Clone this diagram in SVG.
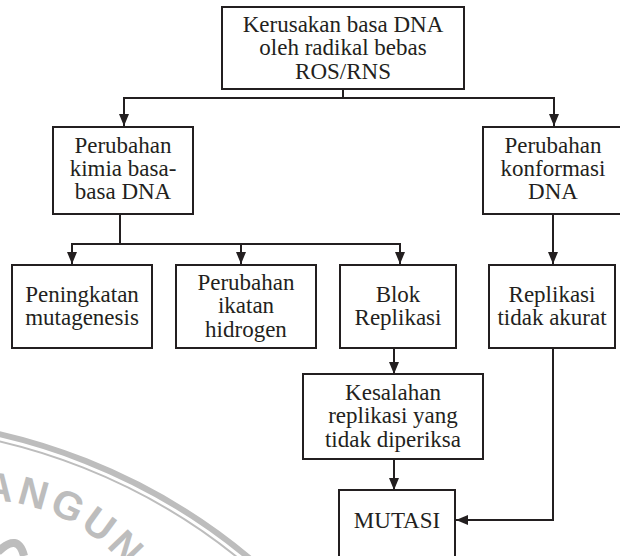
<svg xmlns="http://www.w3.org/2000/svg" width="620" height="556" viewBox="0 0 620 556">
<style>
.box{fill:#fff;stroke:#231f20;stroke-width:2}
.lbl{font-family:"Liberation Serif","Times New Roman",serif;font-size:23px;fill:#231f20;text-anchor:middle}
.con{fill:none;stroke:#231f20;stroke-width:2}
.wm{fill:none;stroke:#bdbdbd}
.wmt{font-family:"Liberation Sans",Arial,sans-serif;font-weight:bold;font-size:40px;fill:#bdbdbd;letter-spacing:4px}
</style>
<defs>
<marker id="ah" markerUnits="userSpaceOnUse" markerWidth="12" markerHeight="12" viewBox="0 0 12 10" refX="12" refY="5" orient="auto">
<path d="M0 0 L12 5 L0 10 Z" fill="#231f20"/>
</marker>
<path id="wmarc" d="M -113.5 525.3 A 189 189 0 0 1 170 689"/>
</defs>
<g id="watermark">
<circle class="wm" cx="-135" cy="1019" r="600" stroke-width="6"/>
<circle class="wm" cx="-135" cy="1019" r="593" stroke-width="2"/>
<text class="wmt"><textPath href="#wmarc" startOffset="101">ANGUN</textPath></text>
<path class="wm" d="M -2 552 Q 18 532 24 556" stroke-width="8"/>
</g>
<g id="connectors">
<path class="con" d="M343 89 V98 H124 V126" marker-end="url(#ah)"/>
<path class="con" d="M343 98 H554 V126" marker-end="url(#ah)"/>
<path class="con" d="M120 214 V244 H72 V264" marker-end="url(#ah)"/>
<path class="con" d="M120 244 H241 V264" marker-end="url(#ah)"/>
<path class="con" d="M241 244 H400 V264" marker-end="url(#ah)"/>
<path class="con" d="M553 214 V264" marker-end="url(#ah)"/>
<path class="con" d="M394 348 V374" marker-end="url(#ah)"/>
<path class="con" d="M394 459 V490" marker-end="url(#ah)"/>
<path class="con" d="M553 348 V520 H456" marker-end="url(#ah)"/>
</g>
<g id="n-kerusakan">
<rect class="box" x="222" y="7" width="242" height="82"/>
<text class="lbl" x="343" y="32">Kerusakan basa DNA</text>
<text class="lbl" x="343" y="55">oleh radikal bebas</text>
<text class="lbl" x="343" y="79">ROS/RNS</text>
</g>
<g id="n-kimia">
<rect class="box" x="53" y="127" width="140" height="87"/>
<text class="lbl" x="123" y="153">Perubahan</text>
<text class="lbl" x="123" y="176">kimia basa-</text>
<text class="lbl" x="123" y="199">basa DNA</text>
</g>
<g id="n-konformasi">
<rect class="box" x="483" y="127" width="140" height="87"/>
<text class="lbl" x="553" y="153">Perubahan</text>
<text class="lbl" x="553" y="176">konformasi</text>
<text class="lbl" x="553" y="199">DNA</text>
</g>
<g id="n-peningkatan">
<rect class="box" x="12" y="265" width="140" height="83"/>
<text class="lbl" x="82" y="302">Peningkatan</text>
<text class="lbl" x="82" y="325">mutagenesis</text>
</g>
<g id="n-ikatan">
<rect class="box" x="176" y="265" width="140" height="83"/>
<text class="lbl" x="246" y="290">Perubahan</text>
<text class="lbl" x="246" y="313">ikatan</text>
<text class="lbl" x="246" y="337">hidrogen</text>
</g>
<g id="n-blok">
<rect class="box" x="340" y="265" width="116" height="83"/>
<text class="lbl" x="398" y="302">Blok</text>
<text class="lbl" x="398" y="325">Replikasi</text>
</g>
<g id="n-replikasi">
<rect class="box" x="489" y="265" width="126" height="83"/>
<text class="lbl" x="552" y="302">Replikasi</text>
<text class="lbl" x="552" y="325">tidak akurat</text>
</g>
<g id="n-kesalahan">
<rect class="box" x="303" y="374" width="180" height="85"/>
<text class="lbl" x="393" y="400">Kesalahan</text>
<text class="lbl" x="393" y="423">replikasi yang</text>
<text class="lbl" x="393" y="447">tidak diperiksa</text>
</g>
<g id="n-mutasi">
<rect class="box" x="339" y="490" width="116" height="80"/>
<text class="lbl" x="397" y="528">MUTASI</text>
</g>
</svg>
